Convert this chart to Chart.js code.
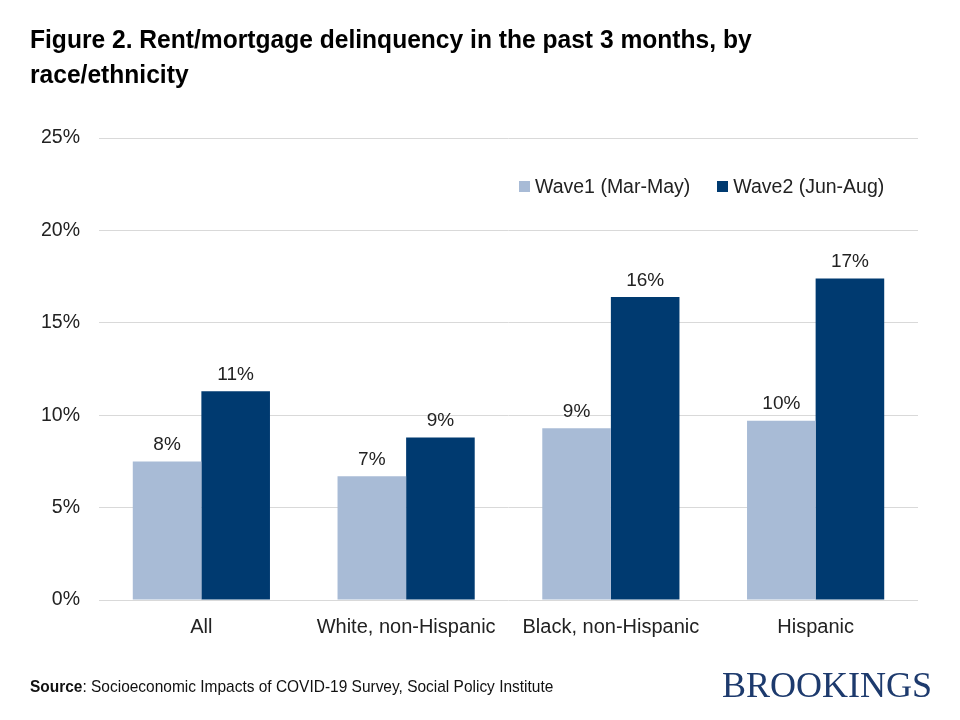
<!DOCTYPE html>
<html>
<head>
<meta charset="utf-8">
<script src="https://cdn.jsdelivr.net/npm/chart.js@4/dist/chart.umd.min.js"></script>
<style>
  body { margin: 0; background: #fff; }
  #wrap { position: relative; width: 960px; height: 720px; overflow: hidden; }
  #myChart { position: absolute; left: 0; top: 0; }
  .title { position: absolute; left: 30px; top: 22px; font-family: "Liberation Sans Narrow", "Liberation Sans", Arial, sans-serif; font-weight: bold; font-size: 26px; line-height: 35px; color: #000; transform: scaleX(0.946); transform-origin: left top; white-space: nowrap; }
  .legend { position: absolute; left: 519px; top: 175px; font-family: "Liberation Sans", Arial, sans-serif; font-size: 19.5px; color: #222; display: flex; gap: 27px; white-space: nowrap; }
  .legend span.box { display: inline-block; width: 11px; height: 11px; margin-right: 5px; vertical-align: 1px; }
  .source { position: absolute; left: 30px; top: 677px; font-family: "Liberation Sans Narrow", "Liberation Sans", Arial, sans-serif; font-size: 17px; color: #111; transform: scaleX(0.91); transform-origin: left top; white-space: nowrap; }
  .logo { position: absolute; left: 722px; top: 664px; font-family: "Liberation Serif", "DejaVu Serif", serif; font-size: 36px; color: #1d3a6d; white-space: nowrap; }
</style>
</head>
<body>
<div id="wrap">
  <canvas id="myChart" width="960" height="720"></canvas>
  <div class="title">Figure 2. Rent/mortgage delinquency in the past 3 months, by<br>race/ethnicity</div>
  <div class="legend" id="legend"></div>
  <div class="source"><b>Source</b>: Socioeconomic Impacts of COVID-19 Survey, Social Policy Institute</div>
  <div class="logo">BROOKINGS</div>
</div>
<script>
const labels = ['All', 'White, non-Hispanic', 'Black, non-Hispanic', 'Hispanic']
const wave1 = [7.5, 6.7, 9.3, 9.7]
const wave2 = [11.3, 8.8, 16.4, 17.4]
const seriesNames = ['Wave1 (Mar-May)', 'Wave2 (Jun-Aug)']
const seriesColors = ['#a8bbd6', '#003a70']
const yTicks = [0, 5, 10, 15, 20, 25]

const legendEl = document.getElementById('legend')
seriesNames.forEach(function(name, i){
    const item = document.createElement('div')
    item.innerHTML = '<span class="box" style="background:' + seriesColors[i] + '"></span>' + name
    legendEl.appendChild(item)
})

// value labels above each bar
const barLabels = {
    id: 'barLabels',
    afterDatasetsDraw(chart) {
        const ctx = chart.ctx
        ctx.save()
        ctx.font = '19px "Liberation Sans", Arial, sans-serif'
        ctx.fillStyle = '#222'
        ctx.textAlign = 'center'
        ctx.textBaseline = 'bottom'
        chart.data.datasets.forEach(function(ds, i){
            chart.getDatasetMeta(i).data.forEach(function(bar, j){
                ctx.fillText(Math.round(ds.data[j]) + '%', bar.x, bar.y - 7)
            })
        })
        ctx.restore()
    }
}

const ctx = document.getElementById('myChart').getContext('2d')

const data = {
    labels,
    datasets: [{
        label: seriesNames[0],
        data: wave1,
        backgroundColor: seriesColors[0]
    }, {
        label: seriesNames[1],
        data: wave2,
        backgroundColor: seriesColors[1]
    }]
}

const config = {
    type: 'bar',
    data,
    options: {
        responsive: false,
        animation: false,
        devicePixelRatio: 1,
        categoryPercentage: 0.67,
        barPercentage: 1,
        layout: { padding: { left: 0, right: 42, top: 138, bottom: 70 } },
        plugins: { legend: { display: false }, tooltip: { enabled: false } },
        scales: {
            x: {
                grid: { display: false },
                border: { display: false },
                ticks: {
                    color: '#222',
                    font: { family: '"Liberation Sans", Arial, sans-serif', size: 20 },
                    padding: 7
                },
                afterFit: function(s){ s.height = 50 }
            },
            y: {
                min: 0,
                max: 25,
                afterBuildTicks: function(s){ s.ticks = yTicks.map(v => ({ value: v })) },
                grid: { color: '#d9d9d9', lineWidth: 1, drawTicks: false },
                border: { display: false },
                ticks: {
                    color: '#222',
                    font: { family: '"Liberation Sans", Arial, sans-serif', size: 19.5 },
                    padding: 19,
                    callback: function(value){ return value + '%' }
                },
                afterFit: function(s){ s.width = 99 }
            }
        }
    },
    plugins: [barLabels]
}

const myChart = new Chart(ctx, config)
</script>
</body>
</html>
